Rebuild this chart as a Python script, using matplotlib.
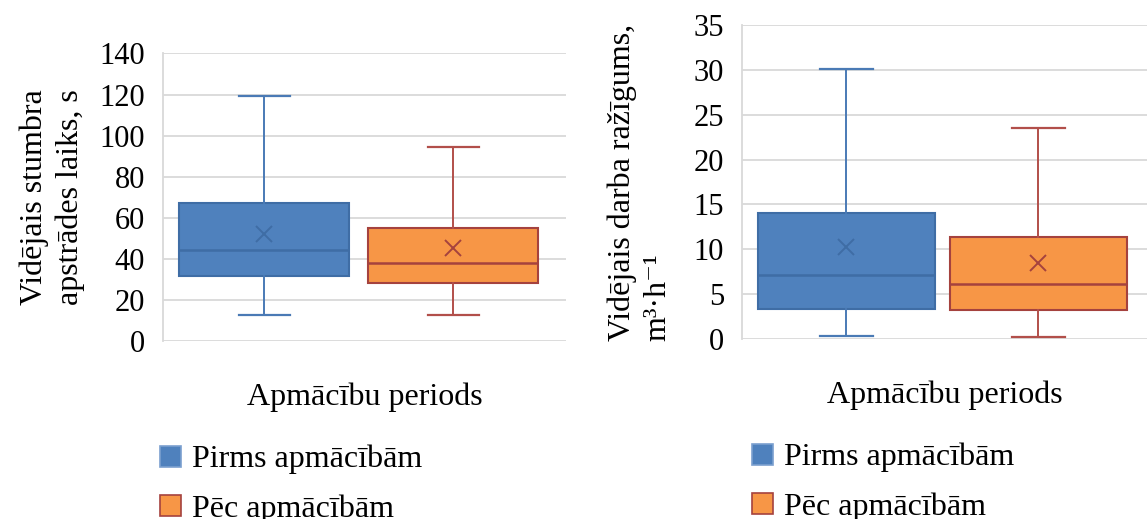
import matplotlib
matplotlib.use("Agg")
import matplotlib.pyplot as plt
from matplotlib.patches import Patch

plt.rcParams['font.family'] = ['Liberation Serif', 'DejaVu Serif']

# Summary statistics per training period
series_names = ['Pirms apmācībām', 'Pēc apmācībām']

# Left chart: average stem processing time, s
time_min = [12.7, 12.8]
time_q1 = [31.6, 28.1]
time_median = [44.4, 38.1]
time_q3 = [67.0, 54.8]
time_max = [119.3, 94.6]
time_mean = [51.9, 45.1]
time_ticks = [0, 20, 40, 60, 80, 100, 120, 140]

# Right chart: average work productivity, m3/h
prod_min = [0.3, 0.26]
prod_q1 = [3.35, 3.25]
prod_median = [7.1, 6.17]
prod_q3 = [14.1, 11.35]
prod_max = [30.1, 23.5]
prod_mean = [10.3, 8.44]
prod_ticks = [0, 5, 10, 15, 20, 25, 30, 35]

x_label = 'Apmācību periods'
y_label_left = 'Vidējais stumbra\napstrādes laiks, s'
y_label_right = 'Vidējais darba ražīgums,\nm³·h⁻¹'

fills = ['#4F81BD', '#F79646']
edges = ['#3F6DA5', '#A5423E']
whisk = ['#4A7AB5', '#B24F4A']
grid_c = '#D9D9D9'
FS_TICK = 22
FS = 23

W, H = 1147, 519
fig = plt.figure(figsize=(W / 100, H / 100), dpi=100)


def stats_list(lo, q1, med, q3, hi, mean):
    return [dict(whislo=lo[i], q1=q1[i], med=med[i], q3=q3[i], whishi=hi[i],
                 mean=mean[i], fliers=[]) for i in range(len(lo))]


def draw_panel(rect, stats, ticks, ylabel, centers, width, ylab_align, ylab_pad):
    ax = fig.add_axes(rect)
    ax.set_xlim(0, 1)
    ax.set_ylim(ticks[0], ticks[-1])
    ax.set_yticks(ticks)
    ax.set_xticks([])
    ax.yaxis.grid(True, color=grid_c, linewidth=1.3)
    ax.set_axisbelow(True)
    for s in ['top', 'right', 'bottom']:
        ax.spines[s].set_visible(False)
    ax.spines['left'].set_color(grid_c)
    ax.spines['left'].set_linewidth(1.3)
    ax.tick_params(axis='y', length=0, pad=13, labelsize=FS_TICK)
    for i, st in enumerate(stats):
        ax.bxp([st], positions=[centers[i]], widths=[width],
               capwidths=[width * 0.3], showmeans=True, patch_artist=True,
               showfliers=False,
               boxprops=dict(facecolor=fills[i], edgecolor=edges[i], linewidth=1.5),
               medianprops=dict(color=edges[i], linewidth=1.8),
               whiskerprops=dict(color=whisk[i], linewidth=1.4),
               capprops=dict(color=whisk[i], linewidth=1.6),
               meanprops=dict(marker='x', markersize=12, markeredgewidth=1.4,
                              markeredgecolor=edges[i], markerfacecolor='none'),
               manage_ticks=False)
    ax.set_xlabel(x_label, fontsize=FS, labelpad=30)
    ax.set_ylabel(ylabel, fontsize=FS, labelpad=ylab_pad,
                  multialignment=ylab_align, linespacing=1.3)
    return ax


ax1 = draw_panel([163 / W, 1 - 341 / H, 403 / W, (341 - 53.5) / H],
                 stats_list(time_min, time_q1, time_median, time_q3, time_max, time_mean),
                 time_ticks, y_label_left, [0.251, 0.720], 0.422, 'center', 10)
ax2 = draw_panel([742 / W, 1 - 339 / H, 405 / W, (339 - 25) / H],
                 stats_list(prod_min, prod_q1, prod_median, prod_q3, prod_max, prod_mean),
                 prod_ticks, y_label_right, [0.258, 0.732], 0.437, 'left', 15)

handles = [Patch(facecolor=fills[i], edgecolor=edges[i] if i else '#7BA0CF', linewidth=1.2)
           for i in range(2)]
for x0, y0 in [(160, 445), (752, 443)]:
    fig.legend(handles, series_names, loc='upper left',
               bbox_to_anchor=(x0 / W, 1 - y0 / H), frameon=False, fontsize=FS,
               handlelength=0.66, handleheight=0.66, handletextpad=0.35,
               labelspacing=0.62, borderpad=0, borderaxespad=0)

fig.savefig('out.png', dpi=100)
